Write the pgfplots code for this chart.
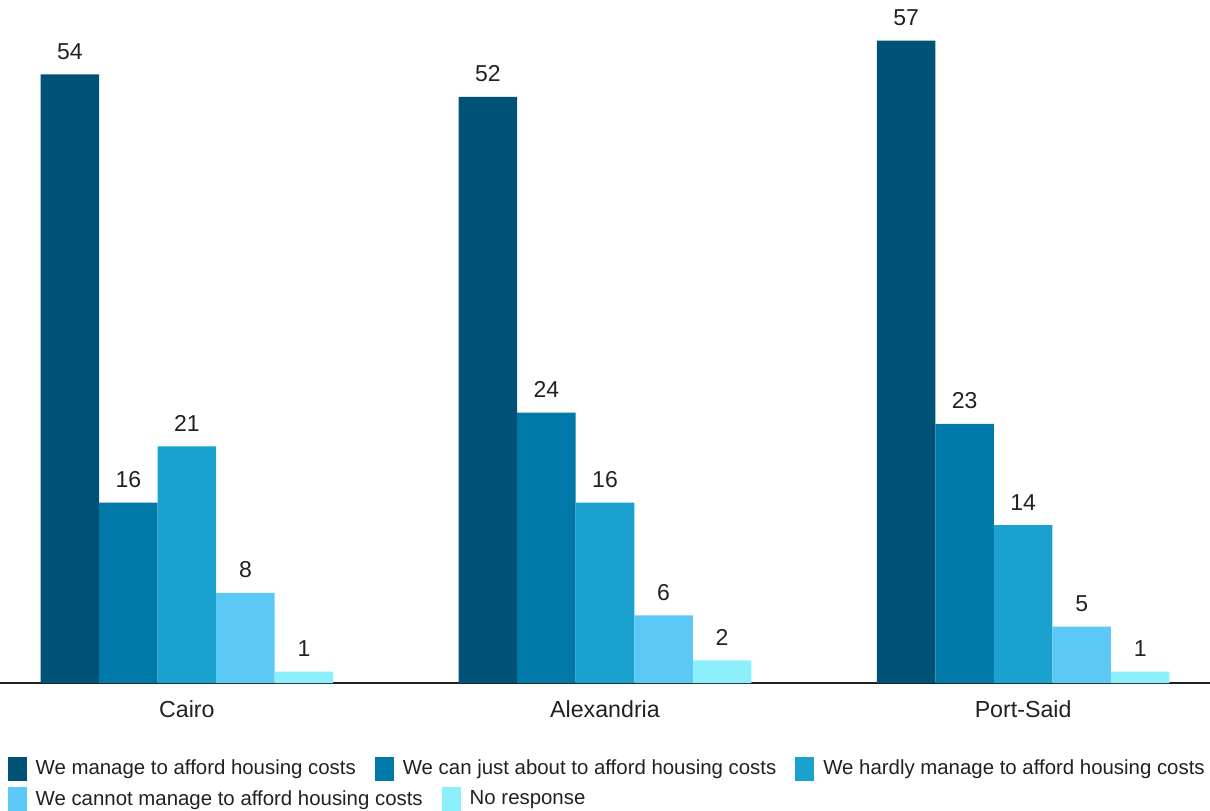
\documentclass[border=0pt]{standalone}
\usepackage{fontspec}
\setmainfont{Liberation Sans}
\usepackage{pgfplots}
\pgfplotsset{compat=1.18}
\definecolor{c1}{HTML}{005277}
\definecolor{c2}{HTML}{0079A8}
\definecolor{c3}{HTML}{1BA1CE}
\definecolor{c4}{HTML}{5BC8F5}
\definecolor{c5}{HTML}{8BEFFC}
\definecolor{txt}{HTML}{212121}
\pgfplotsset{
  mylegend/.style={
    legend columns=-1,
    legend image code/.code={\fill[##1] (0pt,-6pt) rectangle (9.5pt,6pt); \path (12pt,0pt);},
    legend style={draw=none, fill=none, inner sep=0pt, anchor=west,
      font=\fontsize{10.2}{12}\selectfont, text=txt,
      /tikz/every even column/.append style={column sep=7.5pt}},
  }
}
\begin{document}
\begin{tikzpicture}[font=\fontsize{11.5}{13}\selectfont]
\begin{axis}[
  scale only axis, width=605pt, height=341.5pt,
  xmin=-0.447, xmax=2.447, ymin=0, ymax=60.6,
  ybar=0pt, bar width=0.14,
  axis x line=bottom, axis y line=none,
  axis line style={draw=txt, line width=0.75pt, -},
  xtick={0,1,2}, xticklabels={Cairo,Alexandria,Port-Said},
  major tick length=0pt, ytick=\empty,
  xticklabel style={text=txt, yshift=-5.4pt, font=\fontsize{11.6}{13}\selectfont},
  nodes near coords,
  nodes near coords style={text=txt, yshift=4pt, font=\fontsize{11.5}{13}\selectfont,
    /pgf/number format/assume math mode=true},
  clip=false,
  mylegend,
  legend style={at={(0.006,-0.126)}},
]
\addplot[fill=c1, draw=none] coordinates {(0,54) (1,52) (2,57)};
\addplot[fill=c2, draw=none] coordinates {(0,16) (1,24) (2,23)};
\addplot[fill=c3, draw=none] coordinates {(0,21) (1,16) (2,14)};
\addplot[fill=c4, draw=none] coordinates {(0,8) (1,6) (2,5)};
\addplot[fill=c5, draw=none] coordinates {(0,1) (1,2) (2,1)};
\legend{We manage to afford housing costs, We can just about to afford housing costs, We hardly manage to afford housing costs}
\end{axis}
\begin{axis}[
  scale only axis, width=605pt, height=341.5pt, hide axis,
  xmin=0, xmax=1, ymin=0, ymax=1,
  mylegend,
  legend style={at={(0.006,-0.170)}},
]
\addlegendimage{fill=c4, draw=none}
\addlegendentry{We cannot manage to afford housing costs}
\addlegendimage{fill=c5, draw=none}
\addlegendentry{No response}
\end{axis}
\pgfresetboundingbox
\useasboundingbox (0,-63.5pt) rectangle (605pt,341.5pt);
\end{tikzpicture}
\end{document}
